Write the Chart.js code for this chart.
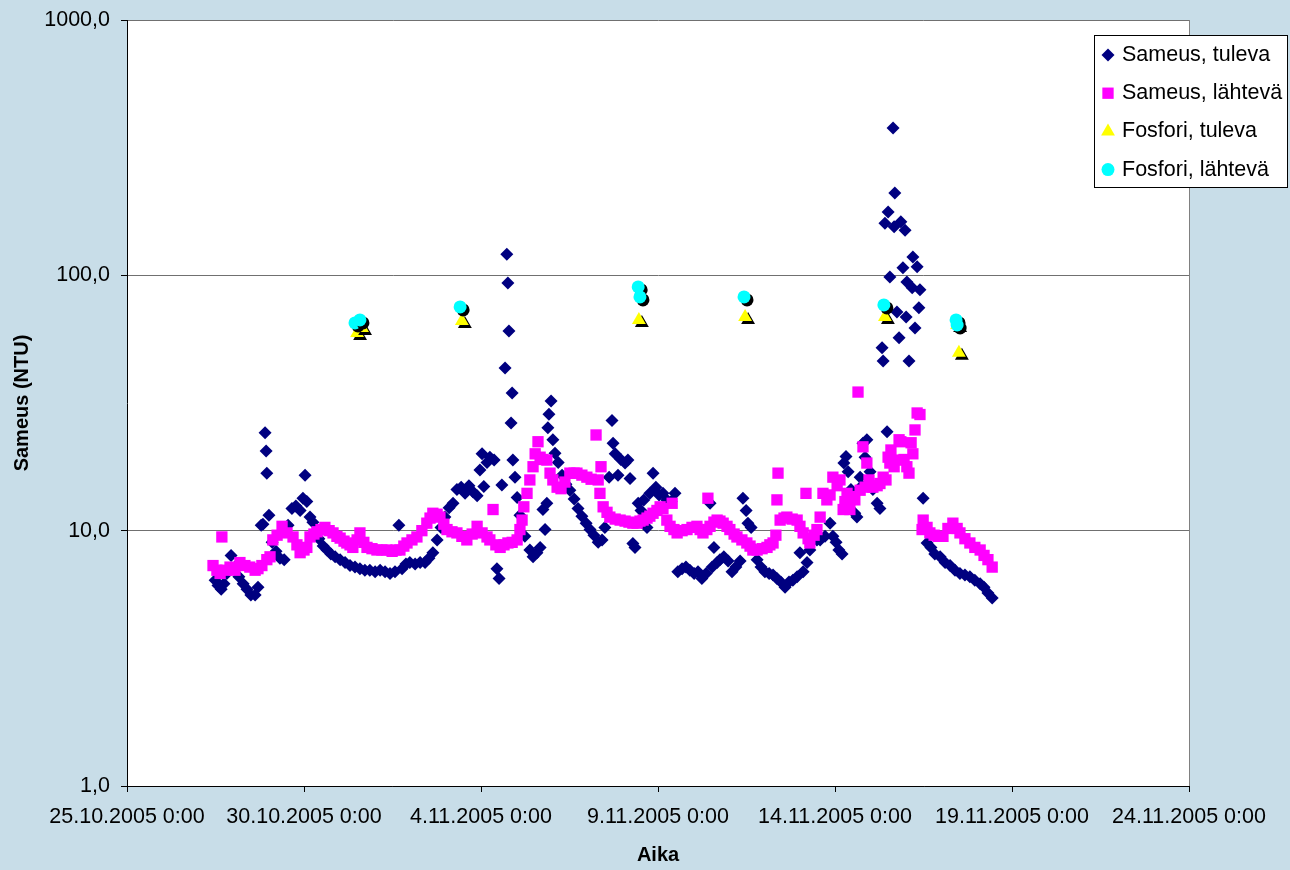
<!DOCTYPE html>
<html>
<head>
<meta charset="utf-8">
<title>Sameus</title>
<script src="https://cdn.jsdelivr.net/npm/chart.js@4.4.1/dist/chart.umd.min.js"></script>
<style>
  html, body { margin: 0; padding: 0; background: #c8dde8; }
</style>
</head>
<body>
<canvas id="sameus" width="1290" height="870"></canvas>
<script>
// x values are days since 25.10.2005 0:00, y values NTU
const startDate = Date.UTC(2005, 9, 25);

const tulevaDay = [
  2.49, 2.57, 2.66, 2.74, 2.82, 2.94, 3.05, 3.16, 3.28, 3.39,
  3.50, 3.62, 3.70, 3.79, 3.84, 3.90, 3.93, 3.95, 4.01, 4.10,
  4.21, 4.32, 4.44, 4.55, 4.66, 4.77, 4.89, 4.97, 5.03, 5.08,
  5.17, 5.25, 5.34, 5.42, 5.54, 5.65, 5.76, 5.88, 6.02, 6.16,
  6.30, 6.44, 6.58, 6.72, 6.86, 7.01, 7.15, 7.29, 7.43, 7.57,
  7.68, 7.77, 7.88, 7.99, 8.14, 8.28, 8.42, 8.53, 8.64, 8.76,
  8.87, 8.98, 9.10, 9.21, 9.32, 9.44, 9.55, 9.66, 9.77, 9.89,
  9.97, 10.03, 10.08, 10.17, 10.25, 10.37, 10.45, 10.51, 10.59, 10.68,
  10.73, 10.76, 10.79, 10.85, 10.88, 10.90, 10.96, 11.02, 11.10, 11.24,
  11.38, 11.47, 11.58, 11.67, 11.75, 11.81, 11.86, 11.89, 11.92, 11.98,
  12.03, 12.09, 12.18, 12.29, 12.40, 12.51, 12.63, 12.74, 12.85, 12.97,
  13.08, 13.19, 13.31, 13.42, 13.50, 13.62, 13.70, 13.73, 13.79, 13.87,
  13.95, 14.07, 14.15, 14.21, 14.29, 14.35, 14.44, 14.52, 14.60, 14.69,
  14.77, 14.86, 14.94, 15.03, 15.14, 15.25, 15.37, 15.48, 15.56, 15.68,
  15.79, 15.90, 16.02, 16.13, 16.24, 16.36, 16.47, 16.53, 16.58, 16.67,
  16.75, 16.86, 16.98, 17.09, 17.20, 17.32, 17.40, 17.49, 17.54, 17.63,
  17.71, 17.80, 17.91, 18.02, 18.14, 18.25, 18.36, 18.47, 18.59, 18.70,
  18.81, 18.93, 19.01, 19.10, 19.21, 19.29, 19.38, 19.49, 19.58, 19.72,
  19.86, 19.94, 20.03, 20.11, 20.20, 20.25, 20.31, 20.37, 20.45, 20.56,
  20.62, 20.71, 20.76, 20.79, 20.85, 20.90, 20.99, 21.07, 21.19, 21.27,
  21.33, 21.36, 21.41, 21.47, 21.50, 21.55, 21.64, 21.67, 21.69, 21.75,
  21.81, 21.86, 21.92, 21.98, 22.01, 22.03, 22.09, 22.18, 22.20, 22.26,
  22.32, 22.37, 22.40, 22.49, 22.60, 22.71, 22.82, 22.97, 23.11, 23.25,
  23.39, 23.53, 23.67, 23.81, 23.95, 24.10, 24.21, 24.32, 24.44
];
const tulevaNtu = [
  6.4, 6.1, 5.9, 6.2, 6.8, 8.0, 7.2, 6.6, 6.2, 5.9,
  5.6, 5.6, 6.0, 10.5, 10.6, 24.2, 20.5, 16.8, 11.5, 9.0,
  8.3, 7.8, 7.7, 10.5, 12.2, 12.5, 12.0, 13.4, 16.5, 13.0,
  11.3, 10.8, 10.0, 9.3, 8.7, 8.4, 8.1, 7.9, 7.7, 7.5,
  7.3, 7.2, 7.1, 7.0, 7.0, 6.9, 7.0, 6.9, 6.8, 6.9,
  10.5, 7.1, 7.4, 7.5, 7.4, 7.5, 7.5, 7.8, 8.2, 9.2,
  10.3, 11.3, 12.3, 12.8, 14.5, 14.8, 14.0, 15.0, 14.2, 13.7,
  17.3, 20.0, 14.9, 18.5, 19.4, 18.9, 7.1, 6.5, 15.1, 43.4,
  121, 93.4, 60.6, 26.4, 34.6, 18.9, 16.2, 13.5, 11.5, 9.5,
  8.4, 7.9, 8.2, 8.6, 12.1, 10.1, 12.8, 25.3, 28.6, 32.2,
  22.7, 20.1, 18.5, 16.5, 15.2, 14.4, 13.3, 12.2, 11.4, 10.7,
  10.1, 9.6, 9.0, 9.2, 10.3, 16.2, 27.0, 22.0, 20.0, 16.5,
  19.0, 18.4, 18.9, 16.0, 8.9, 8.6, 12.8, 12.0, 13.2, 10.3,
  14.0, 16.8, 14.8, 13.8, 14.0, 13.2, 13.0, 14.0, 6.9, 7.1,
  7.2, 7.0, 6.8, 6.9, 6.5, 6.8, 12.8, 7.2, 8.6, 7.5,
  7.7, 7.9, 7.6, 6.9, 7.2, 7.6, 13.4, 12.0, 10.7, 10.3,
  8.5, 7.7, 7.2, 6.9, 6.8, 6.7, 6.5, 6.3, 6.0, 6.3,
  6.4, 6.6, 8.2, 6.9, 7.5, 8.4, 9.5, 9.2, 9.2, 9.5,
  10.7, 9.5, 9.0, 8.4, 8.1, 18.4, 19.5, 17.0, 14.5, 11.7,
  11.3, 16.2, 15.0, 22.0, 19.4, 22.7, 17.0, 14.5, 12.8, 12.2,
  52, 46.2, 160, 24.4, 177, 98.6, 378, 155, 210, 71.9,
  56.9, 162, 107, 150, 68.7, 94.2, 46.2, 89.5, 118, 62.2,
  108, 74.6, 87.9, 13.4, 8.95, 8.6, 8.1, 7.9, 7.5, 7.3,
  7.0, 6.8, 6.7, 6.6, 6.4, 6.2, 6.0, 5.7, 5.45
];

const lahtevaDay = [
  2.43, 2.54, 2.63, 2.68, 2.77, 2.91, 3.05, 3.19, 3.33, 3.47,
  3.62, 3.70, 3.81, 3.95, 4.04, 4.12, 4.24, 4.38, 4.52, 4.69,
  4.80, 4.89, 5.00, 5.08, 5.17, 5.28, 5.37, 5.48, 5.59, 5.71,
  5.82, 5.93, 6.02, 6.13, 6.21, 6.30, 6.38, 6.50, 6.58, 6.69,
  6.78, 6.92, 7.06, 7.20, 7.34, 7.49, 7.60, 7.71, 7.82, 7.91,
  8.05, 8.19, 8.33, 8.47, 8.56, 8.64, 8.76, 8.84, 8.95, 9.04,
  9.18, 9.32, 9.46, 9.60, 9.75, 9.89, 10.03, 10.17, 10.25, 10.34,
  10.42, 10.54, 10.65, 10.76, 10.88, 11.02, 11.10, 11.16, 11.21, 11.30,
  11.38, 11.47, 11.53, 11.61, 11.67, 11.75, 11.86, 11.95, 12.03, 12.15,
  12.26, 12.37, 12.51, 12.63, 12.71, 12.85, 12.99, 13.11, 13.25, 13.31,
  13.36, 13.39, 13.45, 13.56, 13.64, 13.79, 13.93, 14.07, 14.18, 14.29,
  14.41, 14.49, 14.58, 14.69, 14.77, 14.86, 14.97, 15.06, 15.14, 15.25,
  15.34, 15.40, 15.45, 15.54, 15.68, 15.82, 15.96, 16.10, 16.19, 16.27,
  16.38, 16.41, 16.47, 16.58, 16.67, 16.75, 16.84, 16.95, 17.03, 17.15,
  17.23, 17.37, 17.51, 17.60, 17.68, 17.80, 17.94, 18.08, 18.16, 18.25,
  18.33, 18.36, 18.39, 18.45, 18.56, 18.64, 18.79, 18.93, 19.01, 19.10,
  19.18, 19.24, 19.29, 19.41, 19.49, 19.58, 19.66, 19.77, 19.86, 19.94,
  20.06, 20.14, 20.23, 20.28, 20.34, 20.42, 20.48, 20.56, 20.65, 20.71,
  20.79, 20.85, 20.90, 20.96, 21.07, 21.19, 21.27, 21.36, 21.44, 21.50,
  21.55, 21.58, 21.67, 21.75, 21.81, 21.86, 21.95, 22.03, 22.09, 22.15,
  22.20, 22.26, 22.32, 22.40, 22.46, 22.49, 22.60, 22.68, 22.80, 22.91,
  23.05, 23.19, 23.33, 23.45, 23.53, 23.67, 23.81, 23.95, 24.10, 24.21,
  24.32, 24.44
];
const lahtevaNtu = [
  7.3, 7.0, 6.8, 9.45, 7.0, 7.2, 7.0, 7.5, 7.3, 7.2,
  7.0, 7.1, 7.3, 7.7, 7.9, 9.2, 9.6, 10.4, 9.8, 9.45,
  8.8, 8.2, 8.4, 8.6, 9.45, 9.7, 9.9, 10.1, 10.3, 10.0,
  9.8, 9.5, 9.35, 9.1, 8.95, 8.8, 8.6, 9.2, 9.8, 9.0,
  8.6, 8.5, 8.4, 8.4, 8.4, 8.3, 8.4, 8.4, 8.7, 8.95,
  9.2, 9.45, 10.0, 10.7, 11.2, 11.7, 11.6, 11.3, 10.6, 10.1,
  9.9, 9.8, 9.5, 9.2, 9.7, 10.4, 9.8, 9.45, 9.2, 12.1,
  8.8, 8.6, 8.8, 8.95, 9.0, 9.2, 10.1, 11.0, 12.4, 14.0,
  15.8, 17.8, 20.0, 22.3, 19.4, 19.0, 18.9, 16.8, 15.8, 14.8,
  14.6, 15.5, 16.8, 16.8, 16.8, 16.5, 16.2, 15.9, 23.7, 15.8,
  14.0, 17.8, 12.4, 11.8, 11.3, 11.1, 11.0, 10.9, 10.8, 10.7,
  10.7, 10.9, 11.0, 11.2, 11.4, 11.7, 12.0, 12.4, 12.2, 11.0,
  10.4, 12.8, 10.1, 9.8, 10.0, 10.1, 10.3, 10.4, 10.1, 9.8,
  10.1, 13.4, 10.4, 10.8, 11.0, 10.9, 10.7, 10.4, 10.1, 9.7,
  9.45, 9.2, 8.95, 8.7, 8.4, 8.4, 8.5, 8.6, 8.8, 8.95,
  9.6, 13.2, 16.8, 11.0, 11.2, 11.3, 11.1, 11.0, 10.4, 9.8,
  14.0, 9.3, 8.95, 9.6, 10.1, 11.3, 14.0, 13.2, 13.8, 16.2,
  15.0, 15.8, 12.1, 13.0, 14.0, 12.1, 13.6, 13.2, 34.9, 14.4,
  21.3, 14.8, 18.4, 15.8, 14.8, 15.0, 15.3, 16.2, 15.8, 19.4,
  18.4, 20.7, 17.8, 18.9, 22.7, 22.3, 19.0, 17.8, 16.8, 22.1,
  20.0, 24.8, 28.9, 28.5, 10.1, 11.0, 10.3, 9.8, 9.6, 9.5,
  9.5, 10.2, 10.7, 10.2, 9.8, 9.3, 8.95, 8.6, 8.4, 8.0,
  7.7, 7.2
];

const fosTulevaDay = [6.50, 6.64, 9.46, 14.46, 17.46, 21.41, 23.45, 23.50];
const fosTulevaVal = [59.5, 62.2, 66.3, 66.8, 68.7, 68.7, 63.9, 49.7];
const fosLahtevaDay = [6.44, 6.58, 9.41, 14.44, 14.49, 17.43, 21.38, 23.42, 23.45];
const fosLahtevaVal = [65.1, 66.9, 75.2, 90.1, 82.3, 82.3, 76.6, 66.9, 63.9];

const yTicks = [1, 10, 100, 1000];

function points(days, vals) {
  return days.map((d, i) => ({ x: d, y: vals[i] }));
}

function dateLabel(day) {
  const d = new Date(startDate + day * 86400000);
  return d.getUTCDate() + '.' + (d.getUTCMonth() + 1) + '.' + d.getUTCFullYear() + ' 0:00';
}

Chart.defaults.font.family = '"Liberation Sans", Arial, sans-serif';
Chart.defaults.font.size = 21.5;
Chart.defaults.color = '#000';

// whole background light blue, plot area white, gray right edge
const background = {
  id: 'background',
  beforeDraw(chart) {
    const { ctx, chartArea: a } = chart;
    ctx.save();
    ctx.fillStyle = '#c8dde8';
    ctx.fillRect(0, 0, chart.width, chart.height);
    ctx.fillStyle = '#fff';
    ctx.fillRect(a.left, a.top, a.right - a.left, a.bottom - a.top);
    ctx.restore();
  },
  beforeDatasetsDraw(chart) {
    const { ctx, chartArea: a } = chart;
    ctx.save();
    ctx.strokeStyle = '#808080';
    ctx.lineWidth = 1;
    ctx.beginPath();
    ctx.moveTo(Math.round(a.right) + 0.5, a.top);
    ctx.lineTo(Math.round(a.right) + 0.5, a.bottom);
    ctx.stroke();
    ctx.restore();
  }
};

// black drop shadow under the phosphorus markers
const markerShadow = {
  id: 'markerShadow',
  beforeDatasetDraw(chart, args) {
    if (!chart.data.datasets[args.index].shadow) return;
    const ctx = chart.ctx;
    ctx.save();
    ctx.shadowColor = '#000';
    ctx.shadowOffsetX = 3;
    ctx.shadowOffsetY = 3;
    ctx.shadowBlur = 0;
  },
  afterDatasetDraw(chart, args) {
    if (!chart.data.datasets[args.index].shadow) return;
    chart.ctx.restore();
  }
};

// boxed legend sitting over the top right corner of the plot
const legendBox = {
  id: 'legendBox',
  afterDraw(chart) {
    const ctx = chart.ctx;
    const a = chart.chartArea;
    const left = a.right - 95, top = a.top + 15, w = 193, h = 152;
    ctx.save();
    ctx.fillStyle = '#fff';
    ctx.fillRect(left, top, w, h);
    ctx.strokeStyle = '#000';
    ctx.lineWidth = 1;
    ctx.strokeRect(left + 0.5, top + 0.5, w, h);
    ctx.font = '21.5px "Liberation Sans", Arial, sans-serif';
    ctx.textBaseline = 'middle';
    ctx.textAlign = 'left';
    chart.data.datasets.forEach((ds, i) => {
      const y = top + 20 + i * 38.2;
      ctx.fillStyle = ds.backgroundColor;
      Chart.helpers.drawPoint(ctx, {
        pointStyle: ds.pointStyle, radius: ds.pointRadius, rotation: 0, borderWidth: 0
      }, left + 14, y);
      ctx.fillStyle = '#000';
      ctx.fillText(ds.label, left + 28, y);
    });
    ctx.restore();
  }
};

new Chart(document.getElementById('sameus'), {
  type: 'scatter',
  data: {
    datasets: [{
      label: 'Sameus, tuleva',
      data: points(tulevaDay, tulevaNtu),
      pointStyle: 'rectRot',
      pointRadius: 6.5,
      backgroundColor: '#000080',
      borderWidth: 0,
      order: 4
    }, {
      label: 'Sameus, lähtevä',
      data: points(lahtevaDay, lahtevaNtu),
      pointStyle: 'rect',
      pointRadius: 8,
      backgroundColor: '#ff00ff',
      borderWidth: 0,
      order: 3
    }, {
      label: 'Fosfori, tuleva',
      data: points(fosTulevaDay, fosTulevaVal),
      pointStyle: 'triangle',
      pointRadius: 8,
      backgroundColor: '#ffff00',
      borderWidth: 0,
      shadow: true,
      order: 2
    }, {
      label: 'Fosfori, lähtevä',
      data: points(fosLahtevaDay, fosLahtevaVal),
      pointStyle: 'circle',
      pointRadius: 6.5,
      backgroundColor: '#00ffff',
      borderWidth: 0,
      shadow: true,
      order: 1
    }]
  },
  options: {
    responsive: false,
    animation: false,
    events: [],
    layout: { padding: { top: 20, right: 101, left: 0, bottom: 0 } },
    plugins: {
      legend: { display: false },
      tooltip: { enabled: false }
    },
    scales: {
      x: {
        type: 'linear',
        min: 0,
        max: 30,
        afterFit: (scale) => { scale.height = 84; },
        ticks: {
          stepSize: 5,
          autoSkip: false,
          maxRotation: 0,
          padding: 12,
          callback: (v) => dateLabel(v)
        },
        grid: { drawOnChartArea: false, tickLength: 6, tickColor: '#000' },
        border: { color: '#000', width: 1 },
        title: {
          display: true,
          text: 'Aika',
          font: { size: 20, weight: 'bold' },
          padding: { top: 0, bottom: 3 }
        }
      },
      y: {
        type: 'logarithmic',
        min: 1,
        max: 1000,
        afterFit: (scale) => {
          scale.width = 127;
          scale.paddingTop = 0;
          scale.paddingBottom = 0;
        },
        afterBuildTicks: (scale) => { scale.ticks = yTicks.map(v => ({ value: v })); },
        ticks: {
          padding: 11,
          callback: (v) => v.toFixed(1).replace('.', ',')
        },
        grid: { color: '#707070', tickLength: 6, tickColor: '#000' },
        border: { color: '#000', width: 1 },
        title: {
          display: true,
          text: 'Sameus (NTU)',
          font: { size: 20, weight: 'bold' },
          padding: { top: 10, bottom: 0 }
        }
      }
    }
  },
  plugins: [background, markerShadow, legendBox]
});
</script>
</body>
</html>
